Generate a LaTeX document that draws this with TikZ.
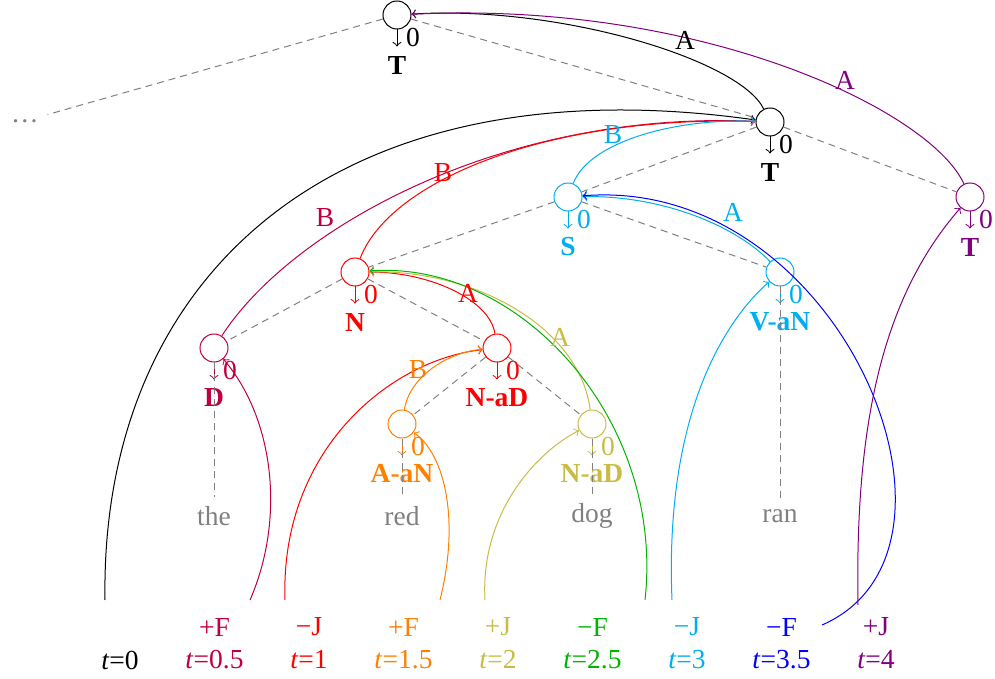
\documentclass[tikz,border=0pt]{standalone}
\usepackage{fontspec}
\setmainfont{Liberation Serif}
\usepackage{tikz}
\usetikzlibrary{calc}
\definecolor{tcrim}{RGB}{191,0,64}
\definecolor{tred}{RGB}{255,0,0}
\definecolor{torange}{RGB}{255,128,0}
\definecolor{tolive}{RGB}{200,188,70}
\definecolor{tgreen}{RGB}{0,180,0}
\definecolor{tcyan}{RGB}{0,174,239}
\definecolor{tblue}{RGB}{0,0,255}
\definecolor{tpurple}{RGB}{128,0,128}
\definecolor{tword}{RGB}{128,128,128}
\newcommand{\mns}{\char"2212\relax}

\begin{document}
\begin{tikzpicture}[x=0.4pt,y=-0.4pt,font=\fontsize{11}{13}\selectfont,
  cnode/.style={circle,draw,minimum size=11.2pt,inner sep=0pt},
  tree/.style={tword,dash pattern=on 2.8pt off 2pt},
  cat/.style={font=\fontsize{11}{13}\selectfont\bfseries}]
\useasboundingbox (0,0) rectangle (995,679);
% categories with their stacks
\foreach \n/\x/\y/\c/\l in {T0/397/15/black/T,T1/770/122/black/T,S/568/197/tcyan/S,
  TR/970/197/tpurple/T,N/355/272/tred/N,V/780/272/tcyan/V-aN,D/214/348/tcrim/D,
  Nd/497/348/tred/N-aD,A/402/424/torange/A-aN,Nd2/592/424/tolive/N-aD}{
\node[cnode,draw=\c] (\n) at (\x,\y) {};
\draw[->,\c] (\n.south) -- ++(0,17);
\node[\c] (\n-z) at (\x+16,\y+22) {0};
\node[cat,\c] (\n-lab) at (\x,\y+50) {\l};
}
\node[tword] (dots) at (25,121) {\dots};
% derivation tree
\foreach \p/\q in {T0/dots,T0/T1,T1/S,T1/TR,S/N,S/V,N/D,N/Nd,Nd/A,Nd/Nd2}{
\draw[tree] (\p) -- (\q);
}
\foreach \w/\x/\p in {the/214/D,red/402/A,dog/592/Nd2,ran/780/V}{
\node[tword] (w-\w) at (\x,516) {\w};
\draw[tree] (\p) -- (w-\w);
}
% time steps
\foreach \t/\c [count=\i from 0] in {0/black,0.5/tcrim,1/tred,1.5/torange,2/tolive,
  2.5/tgreen,3/tcyan,3.5/tblue,4/tpurple}{
\node[\c] (t\i) at (120+94.5*\i,660) {\textit{t}=\t};
}
\foreach \s/\c [count=\i from 1] in {+F/tcrim,\mns J/tred,+F/torange,+J/tolive,
  \mns F/tgreen,\mns J/tcyan,\mns F/tblue,+J/tpurple}{
\node[\c] (s\i) at (120+94.5*\i,627) {\s};
}
% free ends of the moves
\coordinate (b0) at (105,600);
\coordinate (b1) at (250,600);
\coordinate (b2) at (285,600);
\coordinate (b3) at (440,600);
\coordinate (b4) at (485,600);
\coordinate (b5) at (645,600);
\coordinate (b6) at (672,600);
\coordinate (b7) at (822,625);
\coordinate (b8) at (858,605);
% moves
\draw[->] (b0) .. controls (100,280) and (330,60) .. (T1);
\draw[->] (T1) .. controls (740,60) and (560,5) .. (T0);
\draw[->,tcrim] (b1) .. controls (285,520) and (275,420) .. (D);
\draw[->,tcrim] (D) .. controls (290,230) and (500,110) .. (T1);
\draw[->,tred] (b2) .. controls (280,450) and (390,360) .. (Nd);
\draw[->,tred] (Nd) .. controls (490,300) and (430,272) .. (N);
\draw[->,tred] (N) .. controls (390,180) and (550,115) .. (T1);
\draw[->,torange] (b3) .. controls (460,520) and (445,455) .. (A);
\draw[->,torange] (A) .. controls (410,375) and (450,352) .. (Nd);
\draw[->,tolive] (b4) .. controls (480,510) and (540,450) .. (Nd2);
\draw[->,tolive] (Nd2) .. controls (580,330) and (480,270) .. (N);
\draw[->,tgreen] (b5) .. controls (665,420) and (520,260) .. (N);
\draw[->,tcyan] (b6) .. controls (665,430) and (715,330) .. (V);
\draw[->,tcyan] (V) .. controls (735,225) and (660,195) .. (S);
\draw[->,tcyan] (S) .. controls (590,140) and (680,118) .. (T1);
\draw[->,tblue] (b7) .. controls (995,550) and (840,175) .. (S);
\draw[->,tpurple] (b8) .. controls (855,430) and (880,300) .. (TR);
\draw[->,tpurple] (TR) .. controls (930,110) and (700,0) .. (T0);
% move labels
\node (lA0) at (685,40) {A};
\node[tpurple] (lA8) at (845,80) {A};
\node[tcrim] (lB1) at (325,218) {B};
\node[tred] (lB2) at (443,173) {B};
\node[tred] (lA2) at (468,293) {A};
\node[torange] (lB3) at (418,370) {B};
\node[tolive] (lA4) at (560,337) {A};
\node[tcyan] (lA6) at (733,212) {A};
\node[tcyan] (lB6) at (613,135) {B};
\end{tikzpicture}
\end{document}
